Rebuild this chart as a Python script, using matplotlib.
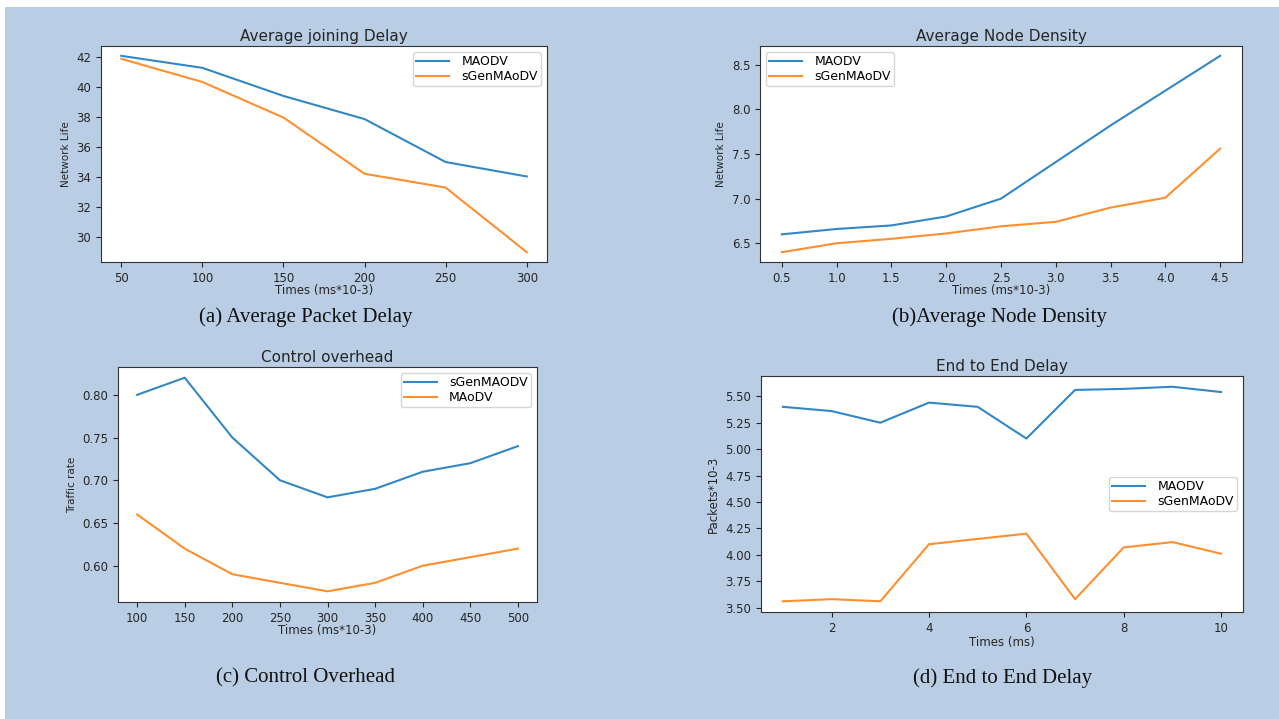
import numpy as np
import matplotlib
matplotlib.use("Agg")
import matplotlib.pyplot as plt
from matplotlib.patches import Rectangle

# ---- data ----
# (a) average joining delay
x_join = [50, 100, 150, 200, 250, 300]
join_maodv = [42.07, 41.27, 39.4, 37.86, 35.0, 34.04]
join_sgen = [41.87, 40.33, 37.96, 34.22, 33.3, 29.0]

# (b) average node density
x_dens = [0.5, 1.0, 1.5, 2.0, 2.5, 3.0, 3.5, 4.0, 4.5]
dens_maodv = [6.60, 6.66, 6.70, 6.80, 7.00, 7.41, 7.82, 8.21, 8.60]
dens_sgen = [6.40, 6.50, 6.55, 6.61, 6.69, 6.74, 6.90, 7.01, 7.56]

# (c) control overhead
x_ovh = [100, 150, 200, 250, 300, 350, 400, 450, 500]
ovh_sgen = [0.80, 0.82, 0.75, 0.70, 0.68, 0.69, 0.71, 0.72, 0.74]
ovh_maodv = [0.66, 0.62, 0.59, 0.58, 0.57, 0.58, 0.60, 0.61, 0.62]

# (d) end to end delay
x_e2e = [1, 2, 3, 4, 5, 6, 7, 8, 9, 10]
e2e_maodv = [5.40, 5.36, 5.25, 5.44, 5.40, 5.10, 5.56, 5.57, 5.59, 5.54]
e2e_sgen = [3.56, 3.58, 3.56, 4.10, 4.15, 4.20, 3.58, 4.07, 4.12, 4.01]

captions = ["(a) Average Packet Delay", "(b)Average Node Density",
            "(c) Control Overhead", "(d) End to End Delay"]

BLUE = "#3287c6"
ORANGE = "#ff8f2e"
BG = "#b9cde4"
TXT = "#262626"

plt.rcParams["font.family"] = "DejaVu Sans"
plt.rcParams["xtick.labelsize"] = 8.5
plt.rcParams["ytick.labelsize"] = 8.5
plt.rcParams["xtick.color"] = TXT
plt.rcParams["ytick.color"] = TXT
plt.rcParams["axes.edgecolor"] = "#333333"
plt.rcParams["legend.fontsize"] = 9
plt.rcParams["legend.labelspacing"] = 0.15
plt.rcParams["legend.borderpad"] = 0.25
plt.rcParams["legend.handlelength"] = 2.6
plt.rcParams["legend.handletextpad"] = 1.0

fig = plt.figure(figsize=(12.79, 7.19), dpi=100, facecolor="white")
# light blue page behind the panels, with a thin white strip top and left
fig.patches.append(Rectangle((5 / 1279, 0), 1274 / 1279, 712 / 719,
                             transform=fig.transFigure, facecolor=BG,
                             edgecolor="none", zorder=-10))

ax_a = fig.add_axes([0.079, 0.6356, 0.3487, 0.3004])
ax_b = fig.add_axes([0.5942, 0.6356, 0.3769, 0.3004])
ax_c = fig.add_axes([0.0923, 0.1627, 0.3276, 0.3268])
ax_d = fig.add_axes([0.595, 0.1488, 0.3769, 0.3282])

lw = 1.5
title_kw = dict(fontsize=11, pad=3.5, color=TXT)
xl_kw = dict(fontsize=8.5, labelpad=-0.5, color=TXT)
yl_kw = dict(fontsize=7.5, color=TXT)

ax_a.plot(x_join, join_maodv, color=BLUE, lw=lw, label="MAODV")
ax_a.plot(x_join, join_sgen, color=ORANGE, lw=lw, label="sGenMAoDV")
ax_a.set_title("Average joining Delay", **title_kw)
ax_a.set_xlabel("Times (ms*10-3)", **xl_kw)
ax_a.set_ylabel("Network Life", **yl_kw)
ax_a.legend(loc="upper right")

ax_b.plot(x_dens, dens_maodv, color=BLUE, lw=lw, label="MAODV")
ax_b.plot(x_dens, dens_sgen, color=ORANGE, lw=lw, label="sGenMAoDV")
ax_b.set_title("Average Node Density", **title_kw)
ax_b.set_xlabel("Times (ms*10-3)", **xl_kw)
ax_b.set_ylabel("Network Life", **yl_kw)
ax_b.legend(loc="upper left")

ax_c.plot(x_ovh, ovh_sgen, color=BLUE, lw=lw, label="sGenMAODV")
ax_c.plot(x_ovh, ovh_maodv, color=ORANGE, lw=lw, label="MAoDV")
ax_c.set_title("Control overhead", **title_kw)
ax_c.set_xlabel("Times (ms*10-3)", **xl_kw)
ax_c.set_ylabel("Traffic rate", **yl_kw)
ax_c.legend(loc="upper right")

ax_d.plot(x_e2e, e2e_maodv, color=BLUE, lw=lw, label="MAODV")
ax_d.plot(x_e2e, e2e_sgen, color=ORANGE, lw=lw, label="sGenMAoDV")
ax_d.set_title("End to End Delay", **title_kw)
ax_d.set_xlabel("Times (ms)", fontsize=8.5, labelpad=1, color=TXT)
ax_d.set_ylabel("Packets*10-3", fontsize=8.5, color=TXT)
ax_d.legend(loc="center right")

# captions under each panel
cap_pos = [(306, 317), (999, 317), (306, 678), (1003, 678)]
for text, (px, py) in zip(captions, cap_pos):
    fig.text(px / 1279, 1 - py / 719, text, family="Liberation Serif",
             fontsize=15, ha="center", va="center", color="#111111")

fig.savefig("out.png", dpi=100, facecolor=fig.get_facecolor())
